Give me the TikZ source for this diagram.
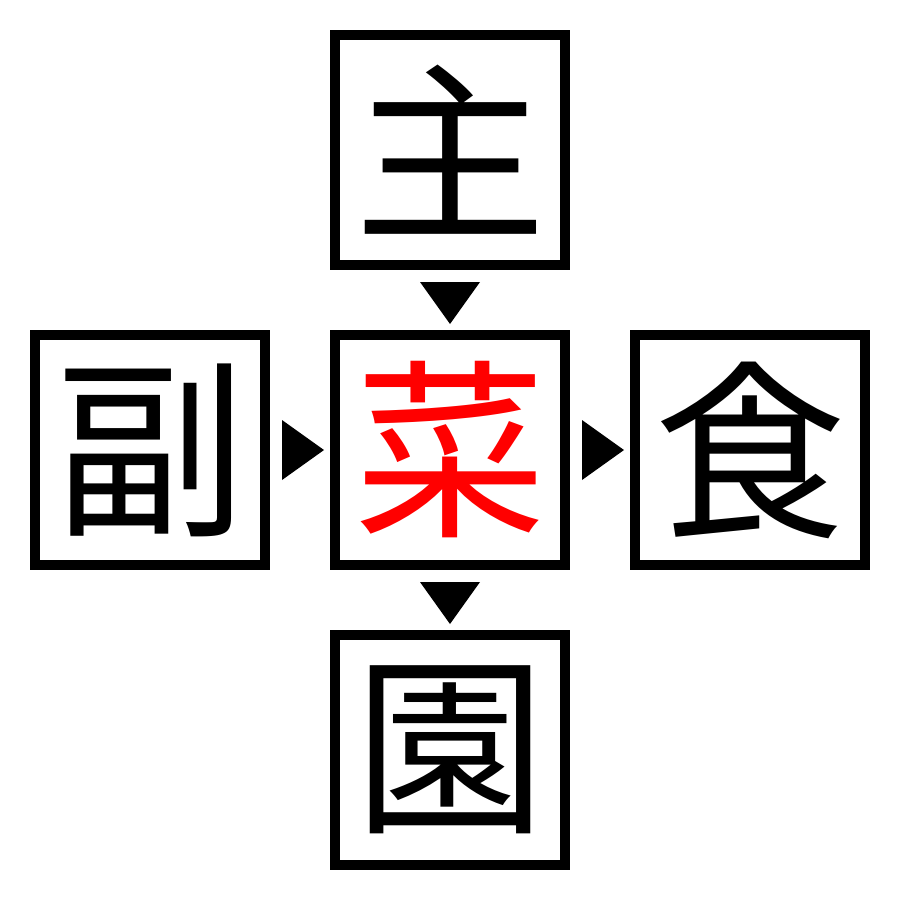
\documentclass[tikz,border=0pt]{standalone}
\usepackage{fontspec}
\newfontfamily\cjkfont{Noto Sans CJK JP}
\usetikzlibrary{calc}
\tikzset{
  kbox/.style={draw=black, line width=10pt, minimum width=230pt, minimum height=230pt, inner sep=0pt, fill=white,
    font=\cjkfont\fontsize{192}{192}\selectfont, text=black},
  tri/.style={fill=black, draw=none}
}
\begin{document}
\begin{tikzpicture}[x=1pt,y=-1pt]
\useasboundingbox (0,0) rectangle (900,900);
\node[kbox] (top) at (450,150) {主};
\node[kbox] (left) at (150,450) {副};
\node[kbox, text=red] (center) at (450,450) {菜};
\node[kbox] (right) at (750,450) {食};
\node[kbox] (bottom) at (450,750) {園};
% triangles
\fill[tri] ($(top.south)+(-30,12)$) -- ($(top.south)+(30,12)$) -- ($(center.north)+(0,-6)$) -- cycle;
\fill[tri] ($(center.south)+(-30,12)$) -- ($(center.south)+(30,12)$) -- ($(bottom.north)+(0,-6)$) -- cycle;
\fill[tri] ($(left.east)+(12,-30)$) -- ($(left.east)+(12,30)$) -- ($(center.west)+(-6,0)$) -- cycle;
\fill[tri] ($(center.east)+(12,-30)$) -- ($(center.east)+(12,30)$) -- ($(right.west)+(-6,0)$) -- cycle;
\end{tikzpicture}
\end{document}
